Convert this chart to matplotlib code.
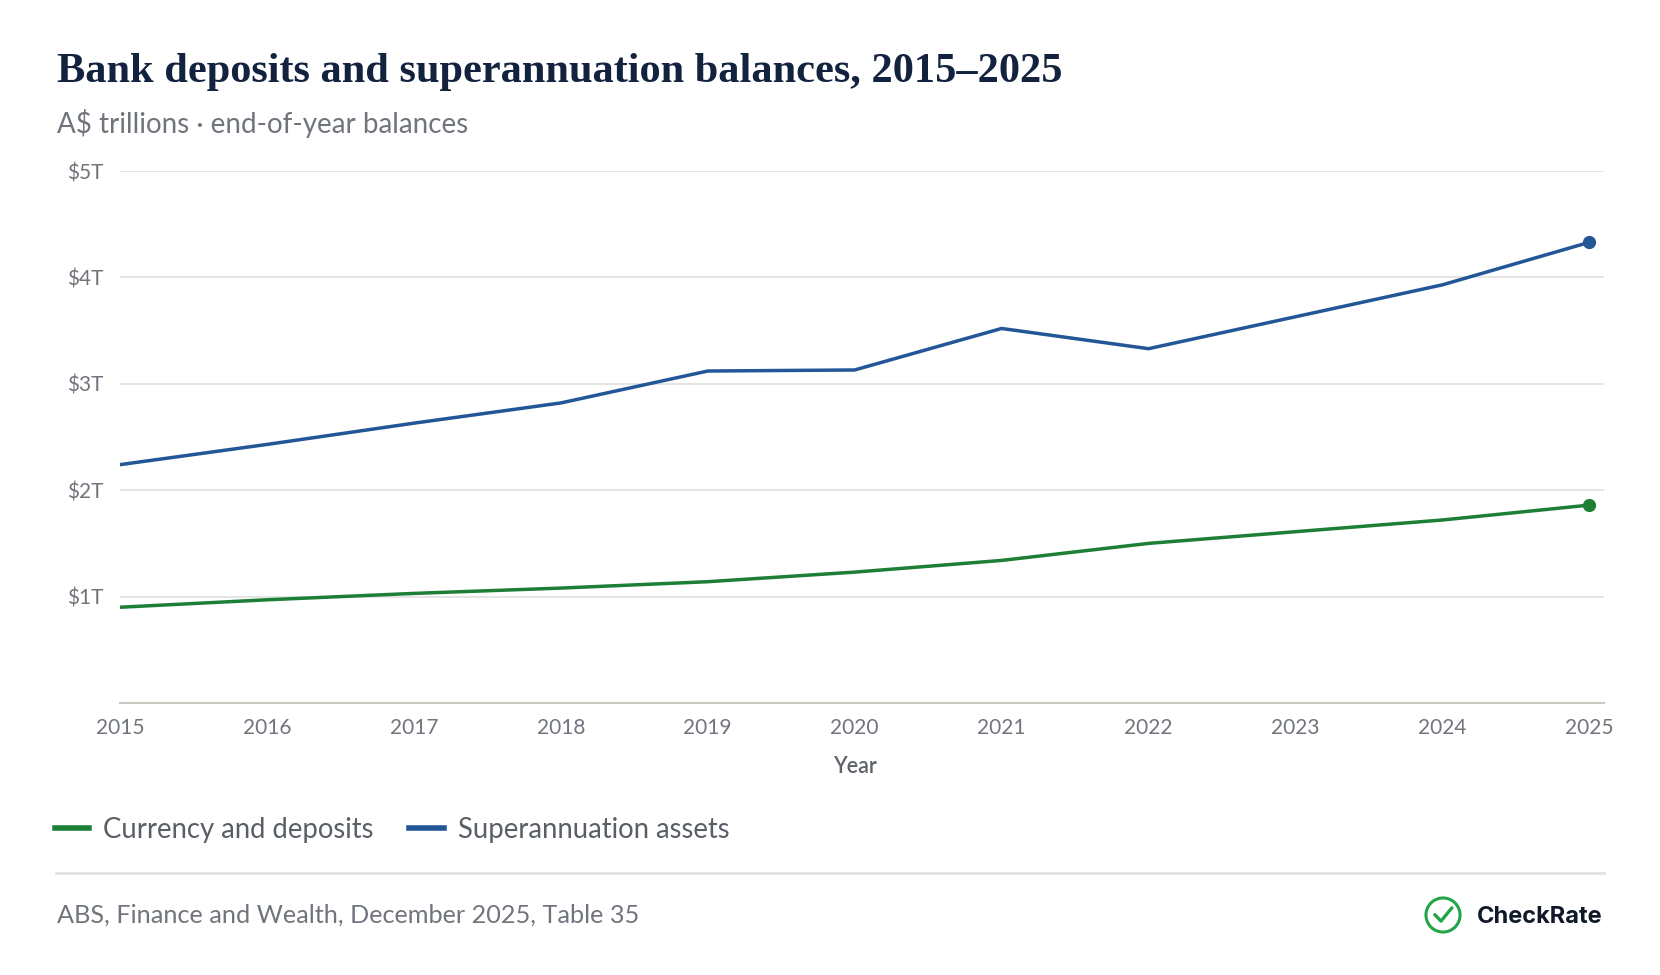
import matplotlib
matplotlib.use("Agg")
from matplotlib import pyplot as plt
from matplotlib.patches import Circle
from matplotlib.lines import Line2D

years = [2015, 2016, 2017, 2018, 2019, 2020, 2021, 2022, 2023, 2024, 2025]
deposits = [0.90, 0.97, 1.03, 1.08, 1.14, 1.23, 1.34, 1.50, 1.61, 1.72, 1.86]
super_assets = [2.24, 2.43, 2.63, 2.82, 3.12, 3.13, 3.52, 3.33, 3.63, 3.93, 4.33]
y_ticks = [1, 2, 3, 4, 5]
y_labels = ["$1T", "$2T", "$3T", "$4T", "$5T"]
series_names = ["Currency and deposits", "Superannuation assets"]

green = "#1c7f35"
blue = "#225697"
grey_txt = "#70757d"
sans = ["Lato", "DejaVu Sans"]

plt.rcParams["font.family"] = sans

fig = plt.figure(figsize=(16.6, 9.75), dpi=100)
ax = fig.add_axes([120 / 1660, 1 - 703 / 975, (1604 - 120) / 1660, (703 - 171) / 975])

ax.plot(years, deposits, color=green, lw=2.5, solid_capstyle="round", zorder=3)
ax.plot(years, super_assets, color=blue, lw=2.5, solid_capstyle="round", zorder=3)
ax.plot(years[-1], deposits[-1], "o", color=green, ms=8.5, zorder=4)
ax.plot(years[-1], super_assets[-1], "o", color=blue, ms=8.5, zorder=4)

ax.set_xlim(2015, 2025.1)
ax.set_ylim(0, 5)
ax.set_xticks(years)
ax.set_xticklabels([str(y) for y in years])
ax.set_yticks(y_ticks)
ax.set_yticklabels(y_labels)
ax.grid(axis="y", color="#e3e3e3", lw=1.3)
ax.set_axisbelow(True)
for s in ["top", "right", "left"]:
    ax.spines[s].set_visible(False)
ax.spines["bottom"].set_color("#c9c9c1")
ax.spines["bottom"].set_linewidth(1.5)
ax.tick_params(axis="both", length=0, labelsize=15, labelcolor=grey_txt)
ax.tick_params(axis="y", pad=12)
ax.tick_params(axis="x", pad=11)
ax.set_xlabel("Year", fontsize=15.5, color="#5f646c", fontweight="semibold")
ax.xaxis.set_label_coords(5 / 10.1, -0.1)

# title block
fig.text(57 / 1660, 1 - 72 / 975, "Bank deposits and superannuation balances, 2015\u20132025",
         family=["Liberation Serif", "DejaVu Serif"], fontweight="bold", fontsize=30.5,
         color="#13233f", va="center", ha="left")
fig.text(57 / 1660, 1 - 123 / 975, "A$ trillions \u00b7 end-of-year balances",
         fontsize=20, color=grey_txt, va="center", ha="left")

# legend
handles = [Line2D([0], [0], color=green, lw=4), Line2D([0], [0], color=blue, lw=4)]
fig.legend(handles, series_names, loc="center left", bbox_to_anchor=(55 / 1660, 1 - 830 / 975),
           ncol=2, frameon=False, fontsize=19.8, labelcolor="#5a5f67", handlelength=1.25,
           handletextpad=0.5, columnspacing=1.3, borderpad=0, borderaxespad=0)

# separator + source
fig.add_artist(Line2D([56 / 1660, 1604 / 1660], [1 - 873 / 975, 1 - 873 / 975],
                      color="#e2e2e2", lw=2))
fig.text(57 / 1660, 1 - 915 / 975, "ABS, Finance and Wealth, December 2025, Table 35",
         fontsize=18.2, color=grey_txt, va="center", ha="left")

# logo
lax = fig.add_axes([1420 / 1660, 1 - 938 / 975, 46 / 1660, 46 / 975])
lax.set_xlim(-1.35, 1.35)
lax.set_ylim(-1.35, 1.35)
lax.set_aspect("equal")
lax.axis("off")
lax.add_patch(Circle((0, 0), 1.0, fill=False, ec="#22a447", lw=2.2))
lax.plot([-0.48, -0.12, 0.52], [0.02, -0.36, 0.42], color="#22a447", lw=2.4,
         solid_capstyle="round", solid_joinstyle="round")
fig.text(1477 / 1660, 1 - 917 / 975, "CheckRate", fontsize=17, fontweight="bold",
         color="#111827", va="center", ha="left", family=["Inter", "DejaVu Sans"])

fig.savefig("out.png", dpi=100, facecolor="white")
